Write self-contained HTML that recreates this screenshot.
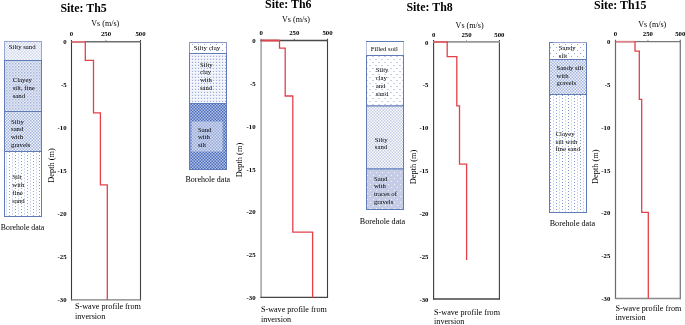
<!DOCTYPE html>
<html><head><meta charset="utf-8"><style>
html,body{margin:0;padding:0;background:#fff;width:685px;height:325px;overflow:hidden}
svg{display:block;will-change:transform}
text{font-family:"Liberation Serif", serif;fill:#000}
.lt{fill:#000}
</style></head><body>
<svg width="685" height="325" viewBox="0 0 685 325">
<defs>
<pattern id="pL" patternUnits="userSpaceOnUse" width="2" height="2" patternTransform="scale(1.5)"><rect width="2" height="2" fill="#fff"/><rect width="1" height="1" fill="#c9d3eb"/><rect x="1" y="1" width="1" height="1" fill="#c9d3eb"/></pattern>
<pattern id="pZig" patternUnits="userSpaceOnUse" width="2" height="2" patternTransform="scale(1.5)"><rect width="2" height="2" fill="#e7ebf5"/><rect width="1" height="1" fill="#a3b4dc"/><rect x="1" y="1" width="1" height="1" fill="#bfcae7"/></pattern>
<pattern id="pDotG" patternUnits="userSpaceOnUse" width="3" height="3"><rect width="3" height="3" fill="#e3e8f4"/><rect x="0" y="0" width="3" height="1" fill="#f5f7fc"/><rect x="1" y="1" width="2" height="2" fill="#edf0f8"/><rect x="0" y="2" width="1" height="1" fill="#99acd8"/></pattern>
<pattern id="pCross" patternUnits="userSpaceOnUse" width="2" height="2" patternTransform="scale(1.5)"><rect width="2" height="2" fill="#f3f5fb"/><rect width="1" height="1" fill="#a2b4de"/><rect x="1" y="1" width="1" height="1" fill="#a2b4de"/></pattern>
<pattern id="pSparse" patternUnits="userSpaceOnUse" width="6" height="3"><rect width="6" height="3" fill="#fff"/><rect x="3" y="2" width="1" height="1" fill="#8aa0d2"/><rect x="0" y="0" width="1" height="2" fill="#d4dcef"/></pattern>
<pattern id="pSparse2" patternUnits="userSpaceOnUse" width="6" height="3"><rect width="6" height="3" fill="#fff"/><rect x="4" y="2" width="1" height="1" fill="#8399cf"/><rect x="1" y="0" width="1" height="2" fill="#d4dcef"/></pattern>
<pattern id="pDash" patternUnits="userSpaceOnUse" width="6" height="6"><rect width="6" height="6" fill="#fff"/><rect x="0" y="2" width="2" height="1" fill="#c6d0ec"/><rect x="3" y="5" width="2" height="1" fill="#c6d0ec"/></pattern>
<pattern id="pDot6" patternUnits="userSpaceOnUse" width="6" height="6"><rect width="6" height="6" fill="#fff"/><rect x="1" y="2" width="1" height="1" fill="#94a8d8"/><rect x="4" y="5" width="1" height="1" fill="#94a8d8"/></pattern>
<pattern id="pGrid" patternUnits="userSpaceOnUse" width="2" height="2" patternTransform="scale(1.5)"><rect width="2" height="2" fill="#fdfdfe"/><rect width="1" height="1" fill="#c3cce5"/><rect x="1" y="1" width="1" height="1" fill="#c3cce5"/></pattern>
<pattern id="pLav" patternUnits="userSpaceOnUse" width="6" height="6"><rect width="6" height="6" fill="#c5cce6"/><rect x="1" y="1" width="1" height="1" fill="#f4f6fc"/><rect x="4" y="4" width="1" height="1" fill="#f4f6fc"/></pattern>
<pattern id="pDark" patternUnits="userSpaceOnUse" width="2" height="2" patternTransform="scale(1.5)"><rect width="2" height="2" fill="#b3c1e6"/><rect width="1" height="1" fill="#4b6bbb"/><rect x="1" y="1" width="1" height="1" fill="#4b6bbb"/></pattern>
<pattern id="pDarkL" patternUnits="userSpaceOnUse" width="2" height="2" patternTransform="scale(1.5)"><rect width="2" height="2" fill="#d0d8ee"/><rect width="1" height="1" fill="#9badda"/><rect x="1" y="1" width="1" height="1" fill="#9badda"/></pattern>
<pattern id="pDot6s" patternUnits="userSpaceOnUse" width="6" height="6"><rect width="6" height="6" fill="#fff"/><rect x="0" y="2" width="1" height="1" fill="#9aaddb"/><rect x="3" y="5" width="1" height="1" fill="#d3dbef"/></pattern>
</defs>
<rect width="685" height="325" fill="#fff"/>
<text transform="translate(60.4 11.6) scale(1 1.06)" font-size="11.9" text-anchor="start" font-weight="bold">Site: Th5</text>
<text transform="translate(91.2 26.1) scale(1 1.06)" font-size="8.1" text-anchor="start">Vs (m/s)</text>
<text transform="translate(71.5 36.1) scale(1 0.97)" font-size="6.8" text-anchor="middle" font-weight="bold">0</text>
<text transform="translate(106.0 36.1) scale(1 0.97)" font-size="6.8" text-anchor="middle" font-weight="bold">250</text>
<text transform="translate(140.5 36.1) scale(1 0.97)" font-size="6.8" text-anchor="middle" font-weight="bold">500</text>
<line x1="71.5" y1="40.0" x2="71.5" y2="300.45" stroke="#3a3a3a" stroke-width="1.1"/>
<line x1="140.5" y1="40.0" x2="140.5" y2="300.45" stroke="#424242" stroke-width="1.1"/>
<line x1="70.95" y1="41.8" x2="141.05" y2="41.8" stroke="#6e6e6e" stroke-width="1.4"/>
<line x1="70.95" y1="299.9" x2="141.05" y2="299.9" stroke="#7e7e7e" stroke-width="1.4"/>
<line x1="106.0" y1="41.8" x2="106.0" y2="40.0" stroke="#6e6e6e" stroke-width="0.8"/>
<text transform="translate(66.6 44.1) scale(1 0.97)" font-size="6.8" text-anchor="end" font-weight="bold">0</text>
<text transform="translate(66.6 87.12) scale(1 0.97)" font-size="6.8" text-anchor="end" font-weight="bold">-5</text>
<text transform="translate(66.6 130.13) scale(1 0.97)" font-size="6.8" text-anchor="end" font-weight="bold">-10</text>
<text transform="translate(66.6 173.15) scale(1 0.97)" font-size="6.8" text-anchor="end" font-weight="bold">-15</text>
<text transform="translate(66.6 216.17) scale(1 0.97)" font-size="6.8" text-anchor="end" font-weight="bold">-20</text>
<text transform="translate(66.6 259.18) scale(1 0.97)" font-size="6.8" text-anchor="end" font-weight="bold">-25</text>
<text transform="translate(66.6 302.2) scale(1 0.97)" font-size="6.8" text-anchor="end" font-weight="bold">-30</text>
<text x="0" y="0" font-size="8.35" text-anchor="middle" transform="translate(54.1,165.5) rotate(-90)">Depth (m)</text>
<text transform="translate(75 309.4) scale(1 1.06)" font-size="8.15" text-anchor="start">S-wave profile from</text>
<text transform="translate(75 318.5) scale(1 1.06)" font-size="8.15" text-anchor="start">inversion</text>
<polyline points="71.5,41.8 85.3,41.8 85.3,60.4 93.5,60.4 93.5,112.8 100.4,112.8 100.4,184.8 107.3,184.8 107.3,299.9" fill="none" stroke="#e3404a" stroke-width="1.3" stroke-linejoin="miter"/>
<line x1="72.0" y1="41.8" x2="84.64999999999999" y2="41.8" stroke="#df7a80" stroke-width="1.5"/>
<text transform="translate(265.1 8.1) scale(1 1.06)" font-size="11.9" text-anchor="start" font-weight="bold">Site: Th6</text>
<text transform="translate(282.0 21.6) scale(1 1.06)" font-size="8.1" text-anchor="start">Vs (m/s)</text>
<text transform="translate(261.1 35.2) scale(1 0.95)" font-size="6.8" text-anchor="middle" font-weight="bold">0</text>
<text transform="translate(294.3 35.2) scale(1 0.95)" font-size="6.8" text-anchor="middle" font-weight="bold">250</text>
<text transform="translate(327.5 35.2) scale(1 0.95)" font-size="6.8" text-anchor="middle" font-weight="bold">500</text>
<line x1="261.1" y1="38.7" x2="261.1" y2="298.09999999999997" stroke="#9a9a9a" stroke-width="1.4"/>
<line x1="327.5" y1="38.7" x2="327.5" y2="297.95" stroke="#3e3e3e" stroke-width="1.1"/>
<line x1="260.40000000000003" y1="40.5" x2="328.05" y2="40.5" stroke="#4a4a4a" stroke-width="1.3"/>
<line x1="260.40000000000003" y1="297.4" x2="328.05" y2="297.4" stroke="#464646" stroke-width="1.3"/>
<line x1="294.3" y1="40.5" x2="294.3" y2="38.7" stroke="#4a4a4a" stroke-width="0.8"/>
<text transform="translate(255.6 43.1) scale(1 0.95)" font-size="6.8" text-anchor="end" font-weight="bold">0</text>
<text transform="translate(255.6 85.92) scale(1 0.95)" font-size="6.8" text-anchor="end" font-weight="bold">-5</text>
<text transform="translate(255.6 128.73) scale(1 0.95)" font-size="6.8" text-anchor="end" font-weight="bold">-10</text>
<text transform="translate(255.6 171.55) scale(1 0.95)" font-size="6.8" text-anchor="end" font-weight="bold">-15</text>
<text transform="translate(255.6 214.37) scale(1 0.95)" font-size="6.8" text-anchor="end" font-weight="bold">-20</text>
<text transform="translate(255.6 257.18) scale(1 0.95)" font-size="6.8" text-anchor="end" font-weight="bold">-25</text>
<text transform="translate(255.6 300.0) scale(1 0.95)" font-size="6.8" text-anchor="end" font-weight="bold">-30</text>
<text x="0" y="0" font-size="8.35" text-anchor="middle" transform="translate(242.1,160.1) rotate(-90)">Depth (m)</text>
<text transform="translate(260.9 312.1) scale(1 1.06)" font-size="8.15" text-anchor="start">S-wave profile from</text>
<text transform="translate(260.9 321.6) scale(1 1.06)" font-size="8.15" text-anchor="start">inversion</text>
<polyline points="261.1,40.5 279.5,40.5 279.5,48.2 285.2,48.2 285.2,96 292.8,96 292.8,232.2 312.6,232.2 312.6,297.4" fill="none" stroke="#e3404a" stroke-width="1.3" stroke-linejoin="miter"/>
<line x1="261.6" y1="40.5" x2="278.85" y2="40.5" stroke="#e3444d" stroke-width="1.5"/>
<text transform="translate(406.4 10.6) scale(1 1.06)" font-size="11.9" text-anchor="start" font-weight="bold">Site: Th8</text>
<text transform="translate(455.6 28.4) scale(1 1.06)" font-size="8.1" text-anchor="start">Vs (m/s)</text>
<text transform="translate(433.6 36.7) scale(1 1.05)" font-size="6.8" text-anchor="middle" font-weight="bold">0</text>
<text transform="translate(466.5 36.7) scale(1 1.05)" font-size="6.8" text-anchor="middle" font-weight="bold">250</text>
<text transform="translate(499.4 36.7) scale(1 1.05)" font-size="6.8" text-anchor="middle" font-weight="bold">500</text>
<line x1="433.6" y1="40.1" x2="433.6" y2="299.55" stroke="#3c3c3c" stroke-width="1.1"/>
<line x1="499.4" y1="40.1" x2="499.4" y2="299.55" stroke="#404040" stroke-width="1.1"/>
<line x1="433.05" y1="41.9" x2="499.95" y2="41.9" stroke="#989898" stroke-width="1.8"/>
<line x1="433.05" y1="299.0" x2="499.95" y2="299.0" stroke="#444444" stroke-width="1.3"/>
<line x1="466.5" y1="41.9" x2="466.5" y2="40.1" stroke="#989898" stroke-width="0.8"/>
<text transform="translate(428.5 44.5) scale(1 1.05)" font-size="6.8" text-anchor="end" font-weight="bold">0</text>
<text transform="translate(428.5 87.35) scale(1 1.05)" font-size="6.8" text-anchor="end" font-weight="bold">-5</text>
<text transform="translate(428.5 130.2) scale(1 1.05)" font-size="6.8" text-anchor="end" font-weight="bold">-10</text>
<text transform="translate(428.5 173.05) scale(1 1.05)" font-size="6.8" text-anchor="end" font-weight="bold">-15</text>
<text transform="translate(428.5 215.9) scale(1 1.05)" font-size="6.8" text-anchor="end" font-weight="bold">-20</text>
<text transform="translate(428.5 258.75) scale(1 1.05)" font-size="6.8" text-anchor="end" font-weight="bold">-25</text>
<text transform="translate(428.5 301.6) scale(1 1.05)" font-size="6.8" text-anchor="end" font-weight="bold">-30</text>
<text x="0" y="0" font-size="8.35" text-anchor="middle" transform="translate(415.90000000000003,167) rotate(-90)">Depth (m)</text>
<text transform="translate(434.1 315) scale(1 1.06)" font-size="8.15" text-anchor="start">S-wave profile from</text>
<text transform="translate(434.1 323.8) scale(1 1.06)" font-size="8.15" text-anchor="start">inversion</text>
<polyline points="433.6,41.9 447.2,41.9 447.2,56.6 456.8,56.6 456.8,105.8 459.5,105.8 459.5,164.2 466.6,164.2 466.6,260" fill="none" stroke="#e3404a" stroke-width="1.3" stroke-linejoin="miter"/>
<line x1="434.1" y1="41.9" x2="446.55" y2="41.9" stroke="#e3666d" stroke-width="1.5"/>
<text transform="translate(594.1 8.9) scale(1 1.06)" font-size="11.9" text-anchor="start" font-weight="bold">Site: Th15</text>
<text transform="translate(638.2 27.3) scale(1 1.06)" font-size="8.1" text-anchor="start">Vs (m/s)</text>
<text transform="translate(615.5 36.3) scale(1 1.05)" font-size="6.8" text-anchor="middle" font-weight="bold">0</text>
<text transform="translate(647.9 36.3) scale(1 1.05)" font-size="6.8" text-anchor="middle" font-weight="bold">250</text>
<text transform="translate(680.3 36.3) scale(1 1.05)" font-size="6.8" text-anchor="middle" font-weight="bold">500</text>
<line x1="615.5" y1="39.800000000000004" x2="615.5" y2="299.1" stroke="#6a6a6a" stroke-width="1.2"/>
<line x1="680.3" y1="39.800000000000004" x2="680.3" y2="299.15" stroke="#7a7a7a" stroke-width="1.3"/>
<line x1="614.9" y1="41.6" x2="680.9499999999999" y2="41.6" stroke="#787878" stroke-width="1.4"/>
<line x1="614.9" y1="298.5" x2="680.9499999999999" y2="298.5" stroke="#8a8a8a" stroke-width="1.4"/>
<line x1="647.9" y1="41.6" x2="647.9" y2="39.800000000000004" stroke="#787878" stroke-width="0.8"/>
<text transform="translate(610.3 44.1) scale(1 1.05)" font-size="6.8" text-anchor="end" font-weight="bold">0</text>
<text transform="translate(610.3 86.92) scale(1 1.05)" font-size="6.8" text-anchor="end" font-weight="bold">-5</text>
<text transform="translate(610.3 129.73) scale(1 1.05)" font-size="6.8" text-anchor="end" font-weight="bold">-10</text>
<text transform="translate(610.3 172.55) scale(1 1.05)" font-size="6.8" text-anchor="end" font-weight="bold">-15</text>
<text transform="translate(610.3 215.37) scale(1 1.05)" font-size="6.8" text-anchor="end" font-weight="bold">-20</text>
<text transform="translate(610.3 258.18) scale(1 1.05)" font-size="6.8" text-anchor="end" font-weight="bold">-25</text>
<text transform="translate(610.3 301.0) scale(1 1.05)" font-size="6.8" text-anchor="end" font-weight="bold">-30</text>
<text x="0" y="0" font-size="8.35" text-anchor="middle" transform="translate(598.4,166.7) rotate(-90)">Depth (m)</text>
<text transform="translate(615.4 310.8) scale(1 1.06)" font-size="8.15" text-anchor="start">S-wave profile from</text>
<text transform="translate(615.4 319.5) scale(1 1.06)" font-size="8.15" text-anchor="start">inversion</text>
<polyline points="615.5,41.6 635,41.6 635,51.1 639.3,51.1 639.3,99.3 641.7,99.3 641.7,212.4 648.3,212.4 648.3,298.5" fill="none" stroke="#e3404a" stroke-width="1.3" stroke-linejoin="miter"/>
<line x1="616.0" y1="41.6" x2="634.35" y2="41.6" stroke="#dd8288" stroke-width="1.5"/>
<rect x="4.5" y="41.5" width="37.0" height="19.0" fill="url(#pL)" stroke="#9aa6d2" stroke-width="1"/>
<rect x="4.5" y="60.5" width="37.0" height="51.0" fill="url(#pZig)" stroke="#5f7bb8" stroke-width="1"/>
<rect x="4.5" y="111.5" width="37.0" height="40.0" fill="url(#pCross)" stroke="#5f7bb8" stroke-width="1"/>
<rect x="4.5" y="151.5" width="37.0" height="65.0" fill="url(#pSparse)" stroke="#5f7bb8" stroke-width="1"/>
<text transform="translate(8.8 49.2) scale(1 1.0)" font-size="6.75" text-anchor="start" class="lt">Silty sand</text>
<text transform="translate(12.7 82.1) scale(1 1.0)" font-size="6.75" text-anchor="start" class="lt">Clayey</text>
<text transform="translate(12.7 89.8) scale(1 1.0)" font-size="6.75" text-anchor="start" class="lt">silt, fine</text>
<text transform="translate(12.7 97.5) scale(1 1.0)" font-size="6.75" text-anchor="start" class="lt">sand</text>
<text transform="translate(11 123.6) scale(1 1.0)" font-size="6.75" text-anchor="start" class="lt">Silty</text>
<text transform="translate(11 131.3) scale(1 1.0)" font-size="6.75" text-anchor="start" class="lt">sand</text>
<text transform="translate(11 139.0) scale(1 1.0)" font-size="6.75" text-anchor="start" class="lt">with</text>
<text transform="translate(11 146.7) scale(1 1.0)" font-size="6.75" text-anchor="start" class="lt">gravels</text>
<text transform="translate(12.3 179.4) scale(1 1.0)" font-size="6.75" text-anchor="start" class="lt">Silt</text>
<text transform="translate(12.3 187.1) scale(1 1.0)" font-size="6.75" text-anchor="start" class="lt">with</text>
<text transform="translate(12.3 194.8) scale(1 1.0)" font-size="6.75" text-anchor="start" class="lt">fine</text>
<text transform="translate(12.3 202.5) scale(1 1.0)" font-size="6.75" text-anchor="start" class="lt">sand</text>
<text transform="translate(0.8 230.2) scale(1 1.0)" font-size="7.8" text-anchor="start">Borehole data</text>
<rect x="189.5" y="42.5" width="37.0" height="11.0" fill="url(#pDot6s)" stroke="#8c96c8" stroke-width="1"/>
<rect x="189.5" y="53.5" width="37.0" height="50.0" fill="url(#pDotG)" stroke="#5f7bb8" stroke-width="1"/>
<rect x="189.5" y="103.5" width="37.0" height="66.0" fill="url(#pDark)" stroke="#5f7bb8" stroke-width="1"/>
<rect x="191.5" y="121.5" width="31" height="30" fill="url(#pDarkL)"/>
<text transform="translate(193.8 49.9) scale(1 1.0)" font-size="6.95" text-anchor="start" class="lt">Silty clay</text>
<text transform="translate(199.9 66.5) scale(1 1.06)" font-size="6.75" text-anchor="start" class="lt">Silty</text>
<text transform="translate(199.9 74.27) scale(1 1.06)" font-size="6.75" text-anchor="start" class="lt">clay</text>
<text transform="translate(199.9 82.04) scale(1 1.06)" font-size="6.75" text-anchor="start" class="lt">with</text>
<text transform="translate(199.9 89.81) scale(1 1.06)" font-size="6.75" text-anchor="start" class="lt">sand</text>
<text transform="translate(197.9 131.7) scale(1 1.04)" font-size="6.75" text-anchor="start" class="lt">Sand</text>
<text transform="translate(197.9 139.35) scale(1 1.04)" font-size="6.75" text-anchor="start" class="lt">with</text>
<text transform="translate(197.9 147.0) scale(1 1.04)" font-size="6.75" text-anchor="start" class="lt">silt</text>
<text transform="translate(185.5 182.1) scale(1 1.0)" font-size="8.0" text-anchor="start">Borehole data</text>
<rect x="366.5" y="41.5" width="37.0" height="14.0" fill="#fff" stroke="#b4bedc" stroke-width="1"/>
<line x1="366.0" y1="41.5" x2="404.0" y2="41.5" stroke="#5f7bb8" stroke-width="1"/>
<rect x="366.5" y="55.5" width="37.0" height="50.5" fill="url(#pDash)" stroke="#5f7bb8" stroke-width="1"/>
<rect x="366.5" y="106" width="37.0" height="63" fill="url(#pGrid)" stroke="#5f7bb8" stroke-width="1"/>
<rect x="366.5" y="169" width="37.0" height="40.5" fill="url(#pLav)" stroke="#5f7bb8" stroke-width="1"/>
<text transform="translate(370.7 51.2) scale(1 1.05)" font-size="6.75" text-anchor="start" class="lt">Filled soil</text>
<text transform="translate(375.7 72.3) scale(1 1.03)" font-size="6.75" text-anchor="start" class="lt">Silty</text>
<text transform="translate(375.7 80.15) scale(1 1.03)" font-size="6.75" text-anchor="start" class="lt">clay</text>
<text transform="translate(375.7 88.0) scale(1 1.03)" font-size="6.75" text-anchor="start" class="lt">and</text>
<text transform="translate(375.7 95.85) scale(1 1.03)" font-size="6.75" text-anchor="start" class="lt">sand</text>
<text transform="translate(374.8 141.9) scale(1 1.0)" font-size="6.75" text-anchor="start" class="lt">Silty</text>
<text transform="translate(374.8 148.8) scale(1 1.0)" font-size="6.75" text-anchor="start" class="lt">sand</text>
<text transform="translate(373.9 180.6) scale(1 1.04)" font-size="6.75" text-anchor="start" class="lt">Sand</text>
<text transform="translate(373.9 188.3) scale(1 1.04)" font-size="6.75" text-anchor="start" class="lt">with</text>
<text transform="translate(373.9 196.0) scale(1 1.04)" font-size="6.75" text-anchor="start" class="lt">traces of</text>
<text transform="translate(373.9 203.7) scale(1 1.04)" font-size="6.75" text-anchor="start" class="lt">gravels</text>
<text transform="translate(359.8 224.1) scale(1 1.0)" font-size="8.15" text-anchor="start">Borehole data</text>
<rect x="549.5" y="42.5" width="37.0" height="17.0" fill="url(#pDot6)" stroke="#5f7bb8" stroke-width="1"/>
<line x1="553" y1="42.5" x2="587" y2="42.5" stroke="#9aa2cf" stroke-width="1"/>
<rect x="549.5" y="59.5" width="37.0" height="35.0" fill="url(#pCross)" stroke="#5f7bb8" stroke-width="1"/>
<rect x="549.5" y="94.5" width="37.0" height="118.0" fill="url(#pSparse2)" stroke="#5f7bb8" stroke-width="1"/>
<text transform="translate(558.8 50.4) scale(1 1.05)" font-size="6.75" text-anchor="start" class="lt">Sandy</text>
<text transform="translate(558.8 57.6) scale(1 1.05)" font-size="6.75" text-anchor="start" class="lt">silt</text>
<text transform="translate(556.6 70.3) scale(1 1.05)" font-size="6.75" text-anchor="start" class="lt">Sandy silt</text>
<text transform="translate(556.6 77.65) scale(1 1.05)" font-size="6.75" text-anchor="start" class="lt">with</text>
<text transform="translate(556.6 85.0) scale(1 1.05)" font-size="6.75" text-anchor="start" class="lt">gravels</text>
<text transform="translate(555.5 136.0) scale(1 1.0)" font-size="6.75" text-anchor="start" class="lt">Clayey</text>
<text transform="translate(555.5 143.5) scale(1 1.0)" font-size="6.75" text-anchor="start" class="lt">silt with</text>
<text transform="translate(555.5 151.0) scale(1 1.0)" font-size="6.75" text-anchor="start" class="lt">fine sand</text>
<text transform="translate(549.7 225.7) scale(1 1.0)" font-size="8.15" text-anchor="start">Borehole data</text>
</svg>
</body></html>
